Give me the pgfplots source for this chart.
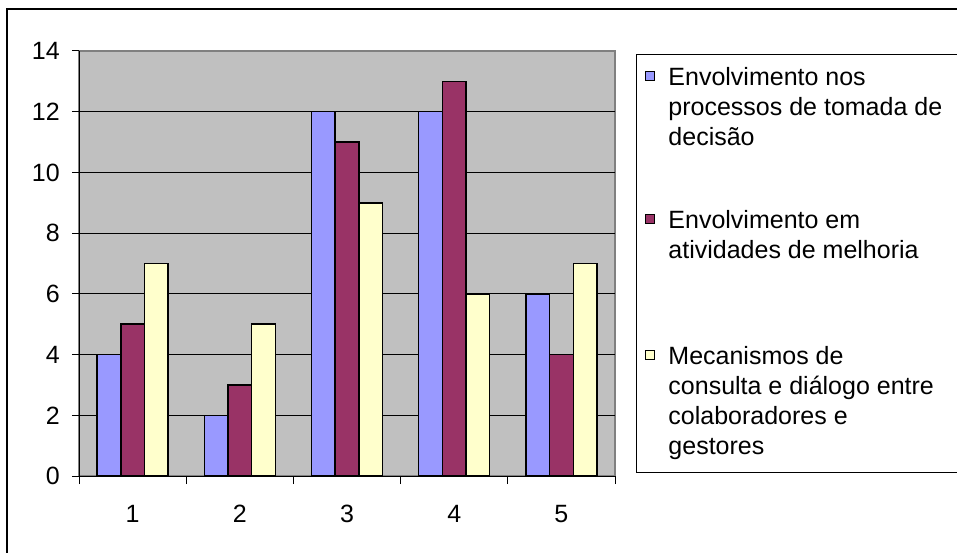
\documentclass[border=0pt]{standalone}
\usepackage{pgfplots}
\pgfplotsset{compat=1.18}
\usepackage{fontspec}
\setmainfont{Liberation Sans}

\definecolor{serA}{HTML}{9999FF}
\definecolor{serB}{HTML}{993366}
\definecolor{serC}{HTML}{FFFFCC}
\definecolor{plotbg}{HTML}{C0C0C0}

\pgfplotstableread{
cat a  b  c
1   4  5  7
2   2  3  5
3   12 11 9
4   12 13 6
5   6  4  7
}\datatable

\pgfplotsset{
  sqleg/.style={legend image code/.code={%
    \draw[##1,line width=1pt] (0pt,5pt) rectangle (9pt,14pt);}},
}

\begin{document}
\begin{tikzpicture}[x=1pt,y=1pt]
\useasboundingbox (0,0) rectangle (957,552);
% outer chart frame
\draw[line width=2.5pt] (7,-5) -- (7,543) -- (965,543);
\begin{axis}[
  at={(79pt,76pt)}, anchor=south west,
  scale only axis, width=536pt, height=425pt,
  xmin=0.5, xmax=5.5, ymin=0, ymax=14,
  ybar=0pt, bar width=0.221,
  axis x line*=bottom, axis y line*=left,
  axis line style={-, black, line width=1pt},
  axis background/.style={fill=plotbg, draw=gray, line width=1.2pt},
  ytick={0,2,...,12}, extra y ticks={14}, extra y tick style={grid=none},
  ymajorgrids, major grid style={black, line width=0.9pt},
  xtick={1,...,5}, minor xtick={0.5,1.5,...,5.5},
  major x tick style={draw=none},
  tick align=outside, ytick pos=left, xtick pos=bottom,
  major tick length=7pt, minor tick length=8pt,
  tick style={black, line width=1pt},
  /pgf/number format/assume math mode=true,
  tick label style={font=\fontsize{25}{29}\selectfont},
  xticklabel style={anchor=base, inner sep=0pt, yshift=-39pt},
  yticklabel style={anchor=east, inner sep=0pt, xshift=-12pt},
  legend style={
    at={(1.0392,0.993)}, anchor=north west,
    draw=black, line width=0.9pt, fill=white,
    inner xsep=9pt, inner ysep=13pt,
    font=\fontsize{25}{30}\selectfont,
    nodes={inner sep=0pt, text depth=},
    cells={anchor=base west},
    /tikz/column sep=13pt, /tikz/row sep=64.5pt,
  },
]
\addplot[fill=serA, draw=black, line width=1.5pt, sqleg] table[x=cat, y=a] {\datatable};
\addplot[fill=serB, draw=black, line width=1.5pt, sqleg] table[x=cat, y=b] {\datatable};
\addplot[fill=serC, draw=black, line width=1.5pt, sqleg] table[x=cat, y=c] {\datatable};
\addlegendentry{\parbox[t]{300pt}{Envolvimento nos\\processos de tomada de\\decisão}}
\addlegendentry{\parbox[t]{300pt}{Envolvimento em\\atividades de melhoria\rule[-23pt]{0pt}{23pt}}}
\addlegendentry{\parbox[t]{300pt}{Mecanismos de\\consulta e diálogo entre\\colaboradores e\\gestores}}
\end{axis}
\end{tikzpicture}
\end{document}
